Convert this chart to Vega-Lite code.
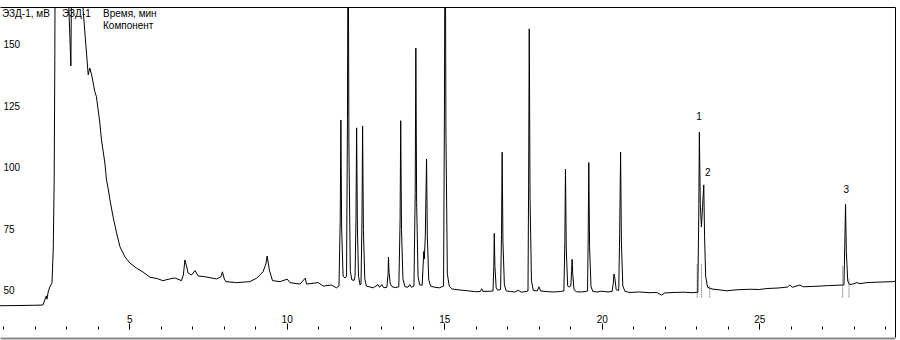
{
  "$schema": "https://vega.github.io/schema/vega-lite/v6.json",
  "width": 895,
  "height": 330,
  "autosize": {"type": "none"},
  "padding": {"left": 0, "top": 7, "right": 5, "bottom": 3},
  "background": "white",
  "config": {"view": {"stroke": null}, "font": "Liberation Sans Narrow, Liberation Sans"},
  "datasets": {
    "trace": [
      {"t":0.90,"mv":44.0},{"t":1.5,"mv":44.1},{"t":2.0,"mv":44.2},{"t":2.26,"mv":44.3},{"t":2.32,"mv":46.3},{"t":2.37,"mv":48.0},{"t":2.39,"mv":46.7},{"t":2.43,"mv":49.6},{"t":2.48,"mv":51.6},{"t":2.55,"mv":53.3},{"t":2.59,"mv":66.7},{"t":2.62,"mv":95},{"t":2.64,"mv":144},{"t":2.67,"mv":260},{"t":2.9,"mv":300},{"t":2.99,"mv":200},{"t":3.15,"mv":141.5},{"t":3.17,"mv":175},{"t":3.22,"mv":300},{"t":3.45,"mv":300},{"t":3.52,"mv":175},{"t":3.54,"mv":164},{"t":3.70,"mv":137.8},{"t":3.75,"mv":140.6},{"t":3.81,"mv":137.8},{"t":3.91,"mv":131},{"t":3.96,"mv":129},{"t":4.07,"mv":118.3},{"t":4.12,"mv":111.4},{"t":4.23,"mv":102},{"t":4.28,"mv":95.1},{"t":4.33,"mv":91.9},{"t":4.39,"mv":87},{"t":4.49,"mv":80.1},{"t":4.60,"mv":73.6},{"t":4.71,"mv":67.9},{"t":4.87,"mv":63.8},{"t":5.02,"mv":61.4},{"t":5.23,"mv":59.3},{"t":5.44,"mv":57.7},{"t":5.66,"mv":55.6},{"t":5.9,"mv":55.0},{"t":6.07,"mv":54.2},{"t":6.29,"mv":54.9},{"t":6.45,"mv":55.3},{"t":6.66,"mv":54.2},{"t":6.72,"mv":56.5},{"t":6.77,"mv":62.6},{"t":6.82,"mv":60.2},{"t":6.87,"mv":57.3},{"t":6.98,"mv":56.5},{"t":7.09,"mv":58.3},{"t":7.19,"mv":56.1},{"t":7.40,"mv":55.8},{"t":7.77,"mv":54.9},{"t":7.91,"mv":55.7},{"t":7.96,"mv":57.8},{"t":8.02,"mv":54.9},{"t":8.07,"mv":53.8},{"t":8.41,"mv":53.4},{"t":8.83,"mv":53.8},{"t":9.05,"mv":55.2},{"t":9.25,"mv":57.8},{"t":9.34,"mv":61.0},{"t":9.38,"mv":64.2},{"t":9.45,"mv":58.5},{"t":9.55,"mv":54.2},{"t":9.79,"mv":53.8},{"t":10.02,"mv":54.8},{"t":10.10,"mv":53.4},{"t":10.42,"mv":52.8},{"t":10.59,"mv":55.2},{"t":10.63,"mv":52.8},{"t":11.0,"mv":53.4},{"t":11.16,"mv":52.0},{"t":11.42,"mv":52.4},{"t":11.58,"mv":51.3},{"t":11.66,"mv":52},{"t":11.70,"mv":79},{"t":11.72,"mv":119.5},{"t":11.745,"mv":75.6},{"t":11.79,"mv":56},{"t":11.86,"mv":55.3},{"t":11.90,"mv":56},{"t":11.93,"mv":120},{"t":11.95,"mv":220},{"t":11.975,"mv":110},{"t":12.02,"mv":58},{"t":12.07,"mv":54.5},{"t":12.14,"mv":54.3},{"t":12.17,"mv":56},{"t":12.20,"mv":79},{"t":12.22,"mv":116.3},{"t":12.245,"mv":76},{"t":12.28,"mv":56},{"t":12.33,"mv":52.4},{"t":12.36,"mv":53},{"t":12.39,"mv":78.5},{"t":12.41,"mv":117},{"t":12.435,"mv":75},{"t":12.48,"mv":55},{"t":12.53,"mv":52},{"t":12.62,"mv":51.7},{"t":12.75,"mv":51.3},{"t":12.9,"mv":52.6},{"t":12.95,"mv":51.5},{"t":13.02,"mv":52.6},{"t":13.08,"mv":51.3},{"t":13.18,"mv":51.5},{"t":13.22,"mv":57},{"t":13.23,"mv":63.8},{"t":13.25,"mv":57.5},{"t":13.29,"mv":52.8},{"t":13.35,"mv":51.7},{"t":13.45,"mv":51.4},{"t":13.56,"mv":51.7},{"t":13.60,"mv":78.5},{"t":13.62,"mv":119.2},{"t":13.645,"mv":75},{"t":13.69,"mv":55},{"t":13.75,"mv":51.8},{"t":13.85,"mv":51.5},{"t":13.91,"mv":52.6},{"t":13.96,"mv":51.5},{"t":14.04,"mv":52},{"t":14.08,"mv":90},{"t":14.10,"mv":148.7},{"t":14.125,"mv":86},{"t":14.17,"mv":56},{"t":14.22,"mv":52.5},{"t":14.30,"mv":52.3},{"t":14.33,"mv":60},{"t":14.35,"mv":66},{"t":14.37,"mv":63},{"t":14.40,"mv":72},{"t":14.44,"mv":103.6},{"t":14.465,"mv":72},{"t":14.51,"mv":54.5},{"t":14.57,"mv":52},{"t":14.7,"mv":51.5},{"t":14.85,"mv":51.3},{"t":14.98,"mv":52},{"t":15.01,"mv":130},{"t":15.03,"mv":230},{"t":15.055,"mv":115},{"t":15.10,"mv":57},{"t":15.16,"mv":52},{"t":15.25,"mv":50.8},{"t":15.5,"mv":50.4},{"t":15.8,"mv":50.0},{"t":16.0,"mv":49.7},{"t":16.15,"mv":49.8},{"t":16.19,"mv":50.9},{"t":16.23,"mv":49.8},{"t":16.45,"mv":49.9},{"t":16.55,"mv":50},{"t":16.575,"mv":60},{"t":16.59,"mv":73.4},{"t":16.61,"mv":60},{"t":16.65,"mv":51.3},{"t":16.70,"mv":50.3},{"t":16.79,"mv":50.6},{"t":16.82,"mv":73},{"t":16.84,"mv":106.4},{"t":16.865,"mv":70},{"t":16.91,"mv":52.5},{"t":16.97,"mv":50},{"t":17.1,"mv":49.8},{"t":17.25,"mv":49.6},{"t":17.35,"mv":50.3},{"t":17.45,"mv":49.5},{"t":17.6,"mv":49.8},{"t":17.66,"mv":50},{"t":17.68,"mv":93},{"t":17.70,"mv":156.5},{"t":17.725,"mv":88},{"t":17.77,"mv":54},{"t":17.83,"mv":50.2},{"t":17.95,"mv":50},{"t":18.01,"mv":51.7},{"t":18.06,"mv":50},{"t":18.3,"mv":49.7},{"t":18.5,"mv":49.6},{"t":18.7,"mv":49.8},{"t":18.80,"mv":50},{"t":18.83,"mv":70},{"t":18.85,"mv":99.5},{"t":18.875,"mv":67},{"t":18.92,"mv":52},{"t":18.97,"mv":51.6},{"t":19.02,"mv":52},{"t":19.045,"mv":58},{"t":19.06,"mv":62.9},{"t":19.08,"mv":57},{"t":19.12,"mv":50.5},{"t":19.2,"mv":49.7},{"t":19.35,"mv":49.6},{"t":19.5,"mv":49.8},{"t":19.55,"mv":50},{"t":19.57,"mv":71},{"t":19.59,"mv":102.2},{"t":19.615,"mv":68},{"t":19.66,"mv":51.8},{"t":19.72,"mv":49.8},{"t":19.85,"mv":49.6},{"t":20.0,"mv":49.9},{"t":20.2,"mv":49.6},{"t":20.33,"mv":49.8},{"t":20.365,"mv":53},{"t":20.39,"mv":56.9},{"t":20.42,"mv":55},{"t":20.46,"mv":50.5},{"t":20.54,"mv":50.2},{"t":20.57,"mv":73},{"t":20.60,"mv":106.4},{"t":20.625,"mv":70},{"t":20.67,"mv":52},{"t":20.74,"mv":49.8},{"t":20.9,"mv":49.4},{"t":21.2,"mv":49.6},{"t":21.5,"mv":49.3},{"t":21.75,"mv":49.4},{"t":21.9,"mv":48.3},{"t":22.0,"mv":49.2},{"t":22.3,"mv":49.4},{"t":22.6,"mv":49.5},{"t":22.9,"mv":49.3},{"t":23.05,"mv":49.5},{"t":23.08,"mv":80},{"t":23.10,"mv":114.5},{"t":23.13,"mv":85},{"t":23.165,"mv":76},{"t":23.20,"mv":84},{"t":23.24,"mv":93.1},{"t":23.265,"mv":72},{"t":23.30,"mv":56},{"t":23.36,"mv":51.5},{"t":23.5,"mv":50.8},{"t":23.97,"mv":50.1},{"t":24.3,"mv":50.5},{"t":24.7,"mv":50.7},{"t":25.0,"mv":50.6},{"t":25.24,"mv":51.0},{"t":25.6,"mv":51.2},{"t":25.90,"mv":51.6},{"t":25.97,"mv":52.4},{"t":26.05,"mv":51.5},{"t":26.29,"mv":52.4},{"t":26.4,"mv":51.7},{"t":26.8,"mv":51.9},{"t":27.2,"mv":52.2},{"t":27.6,"mv":52.4},{"t":27.69,"mv":52.5},{"t":27.715,"mv":68},{"t":27.74,"mv":85.2},{"t":27.765,"mv":66},{"t":27.81,"mv":54},{"t":27.87,"mv":52.6},{"t":27.97,"mv":52.8},{"t":28.1,"mv":53.4},{"t":28.2,"mv":53},{"t":28.42,"mv":53.4},{"t":28.8,"mv":53.6},{"t":29.24,"mv":53.8},{"t":29.31,"mv":53.9}
    ],
    "marks": [
      {"t":23.03,"lo":47.4,"hi":61},
      {"t":23.17,"lo":47.4,"hi":61},
      {"t":23.43,"lo":47.4,"hi":52},
      {"t":27.65,"lo":47.4,"hi":60},
      {"t":27.85,"lo":47.4,"hi":55}
    ],
    "header": [
      {"t":0.963,"mv":162.6,"label":"ЭЗД-1, мВ"},
      {"t":2.868,"mv":162.6,"label":"ЭЗД-1"},
      {"t":4.17,"mv":162.6,"label":"Время, мин"},
      {"t":4.17,"mv":157.7,"label":"Компонент"}
    ],
    "peaks": [
      {"t":23.09,"mv":120.7,"label":"1"},
      {"t":23.37,"mv":97.9,"label":"2"},
      {"t":27.76,"mv":91.0,"label":"3"}
    ]
  },
  "layer": [
    {
      "data": {"name": "marks"},
      "mark": {"type": "rule", "color": "#555", "strokeDash": [1, 1], "strokeWidth": 1},
      "encoding": {
        "x": {"field": "t", "type": "quantitative", "scale": {"domain": [0.9, 29.31], "nice": false, "zero": false},
          "axis": {"orient": "bottom", "offset": -8, "values": [1,2,3,4,5,6,7,8,9,10,11,12,13,14,15,16,17,18,19,20,21,22,23,24,25,26,27,28,29], "tickSize": -3, "tickColor": "#000", "labels": false, "domain": false, "grid": false, "title": null}},
        "y": {"field": "lo", "type": "quantitative", "scale": {"domain": [31.3, 165.4], "nice": false, "zero": false},
          "axis": {"orient": "right", "domain": true, "domainColor": "#000", "domainWidth": 1, "ticks": false, "labels": false, "grid": false, "title": null}},
        "y2": {"field": "hi"}
      }
    },
    {
      "data": {"name": "trace"},
      "mark": {"type": "line", "color": "#000", "strokeWidth": 1, "clip": true, "interpolate": "linear"},
      "encoding": {
        "x": {"field": "t", "type": "quantitative",
          "axis": {"orient": "bottom", "offset": -8, "values": [5,10,15,20,25], "tickSize": -6, "tickColor": "#000", "domain": false, "grid": false, "title": null, "labelPadding": -1, "labelBaseline": "alphabetic", "labelFontSize": 10, "labelColor": "#000", "labelFont": "Liberation Sans Narrow, Liberation Sans"}},
        "y": {"field": "mv", "type": "quantitative",
          "axis": {"orient": "left", "values": [50,75,100,125,150], "ticks": false, "domain": false, "grid": false, "title": null, "labelAlign": "left", "labelPadding": -3, "labelBaseline": "middle", "labelFontSize": 10, "labelColor": "#000", "labelFont": "Liberation Sans Narrow, Liberation Sans"}}
      }
    },
    {
      "data": {"name": "header"},
      "mark": {"type": "text", "align": "left", "baseline": "middle", "fontSize": 10, "font": "Liberation Sans Narrow, Liberation Sans", "color": "#000"},
      "encoding": {
        "x": {"field": "t", "type": "quantitative",
          "axis": {"orient": "top", "domain": true, "domainColor": "#000", "domainWidth": 1, "ticks": false, "labels": false, "grid": false, "title": null}},
        "y": {"field": "mv", "type": "quantitative", "axis": null},
        "text": {"field": "label"}
      }
    },
    {
      "data": {"name": "peaks"},
      "mark": {"type": "text", "align": "center", "baseline": "middle", "fontSize": 10, "font": "Liberation Sans Narrow, Liberation Sans", "color": "#000"},
      "encoding": {
        "x": {"field": "t", "type": "quantitative",
          "axis": {"orient": "bottom", "offset": 1, "domain": true, "domainColor": "#8a8a8a", "domainWidth": 2, "ticks": false, "labels": false, "grid": false, "title": null}},
        "y": {"field": "mv", "type": "quantitative", "axis": null},
        "text": {"field": "label"}
      }
    }
  ],
  "resolve": {"axis": {"x": "independent", "y": "independent"}}
}
